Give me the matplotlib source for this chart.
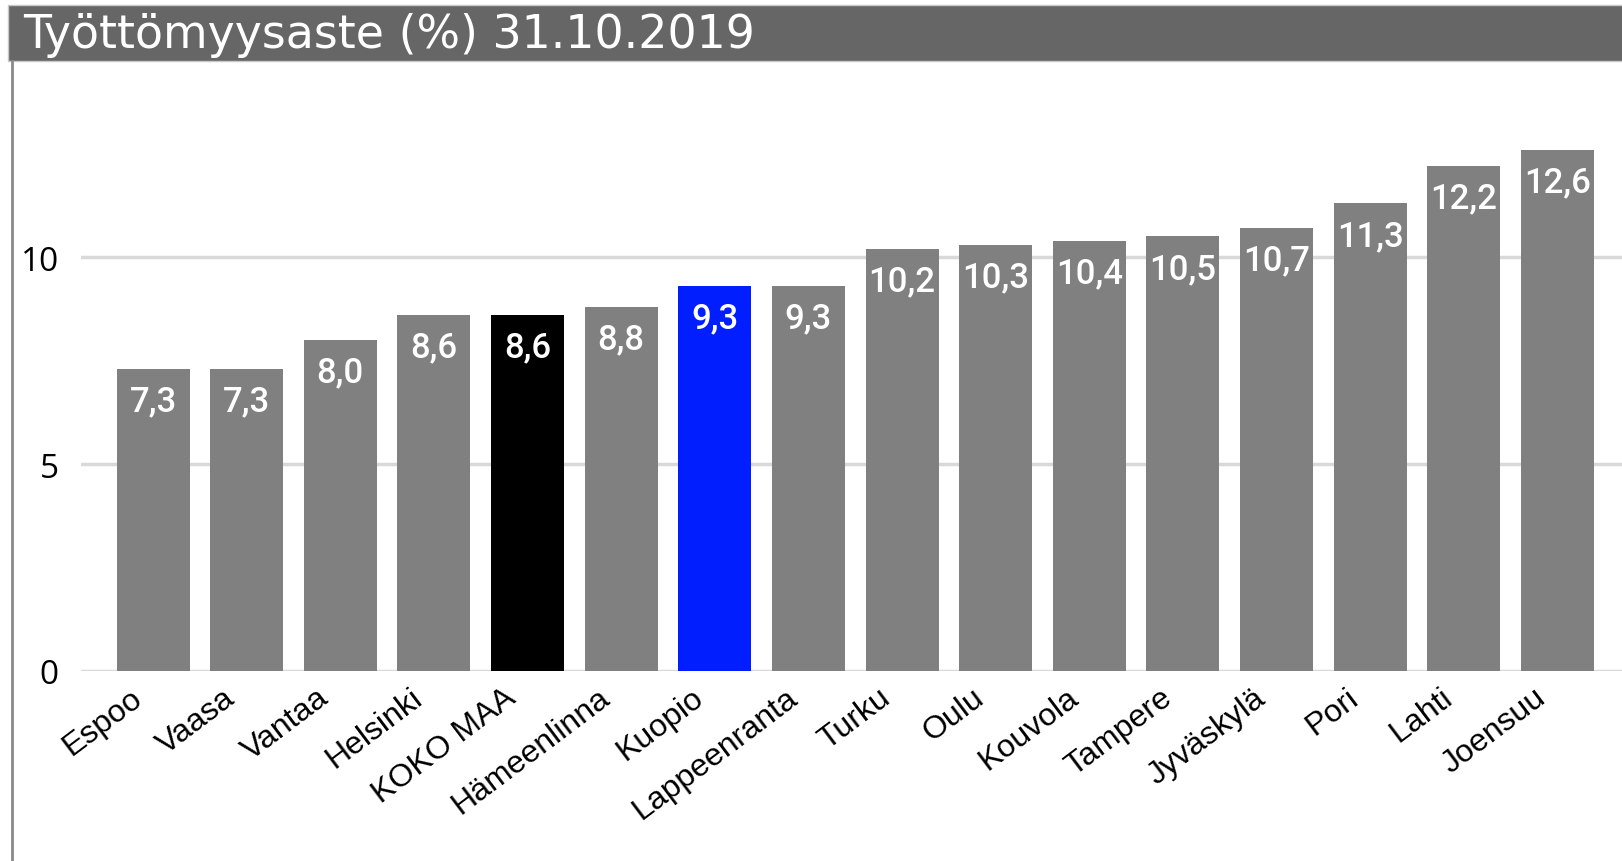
import matplotlib
matplotlib.use("Agg")
from matplotlib import pyplot as plt
from matplotlib.patches import Rectangle
from matplotlib.lines import Line2D

# data
kaupungit = ["Espoo", "Vaasa", "Vantaa", "Helsinki", "KOKO MAA", "Hämeenlinna",
             "Kuopio", "Lappeenranta", "Turku", "Oulu", "Kouvola", "Tampere",
             "Jyväskylä", "Pori", "Lahti", "Joensuu"]
tyottomyys = [7.3, 7.3, 8.0, 8.6, 8.6, 8.8, 9.3, 9.3, 10.2, 10.3, 10.4, 10.5,
              10.7, 11.3, 12.2, 12.6]
y_ticks = [0, 5, 10]
otsikko = "Työttömyysaste (%) 31.10.2019"

# colours: koko maa black, kuopio blue, others grey
varit = []
for k in kaupungit:
    if k == "KOKO MAA":
        varit.append("#000000")
    elif k == "Kuopio":
        varit.append("#001eff")
    else:
        varit.append("#808080")

W, H = 1622, 862
fig = plt.figure(figsize=(W / 100, H / 100), dpi=100)

# title bar + left border
fig.patches.append(Rectangle((8 / W, 1 - 62 / H), 1, 56 / H, transform=fig.transFigure,
                             facecolor="#666666", edgecolor="#c8c8c8", linewidth=1))
fig.lines.append(Line2D([11.5 / W, 11.5 / W], [0, 1 - 62 / H], transform=fig.transFigure,
                        color="#8a8a8a", linewidth=2))
fig.text(23 / W, 1 - 36 / H, otsikko, color="white", fontsize=33,
         family="DejaVu Sans", va="center", ha="left")

ax = fig.add_axes([81 / W, 1 - 672 / H, 1 - 81 / W, (672 - 64) / H])
x = range(len(kaupungit))
bars = ax.bar(x, tyottomyys, width=0.78, color=varit, zorder=3)

etiketit = [f"{v:.1f}".replace(".", ",") for v in tyottomyys]
ax.bar_label(bars, labels=etiketit, padding=-35, color="white", fontsize=25,
             family=["Roboto", "DejaVu Sans"], fontweight="medium", zorder=4)

ax.set_xlim(-0.77, 15.69)
ax.set_ylim(0, 14.69)
ax.set_yticks(y_ticks)
ax.set_yticklabels([str(t) for t in y_ticks], fontsize=24, family="Open Sans")
ax.set_xticks(list(x))
ax.set_xticklabels([])
# kaupunkien nimet vinossa, hieman vasemmalle siirrettynä
for i, k in enumerate(kaupungit):
    ax.annotate(k, xy=(i, 0), xycoords=("data", "axes fraction"),
                xytext=(-17, -8), textcoords="offset points", rotation=37,
                ha="right", va="top", rotation_mode="anchor",
                fontsize=23, family="Liberation Sans", annotation_clip=False)
ax.tick_params(axis="both", length=0)
ax.tick_params(axis="y", pad=16)
ax.grid(axis="y", color="#d9d9d9", linewidth=2.5, zorder=0)
for s in ax.spines.values():
    s.set_visible(False)
ax.set_facecolor("none")

fig.savefig("out.png", dpi=100)
